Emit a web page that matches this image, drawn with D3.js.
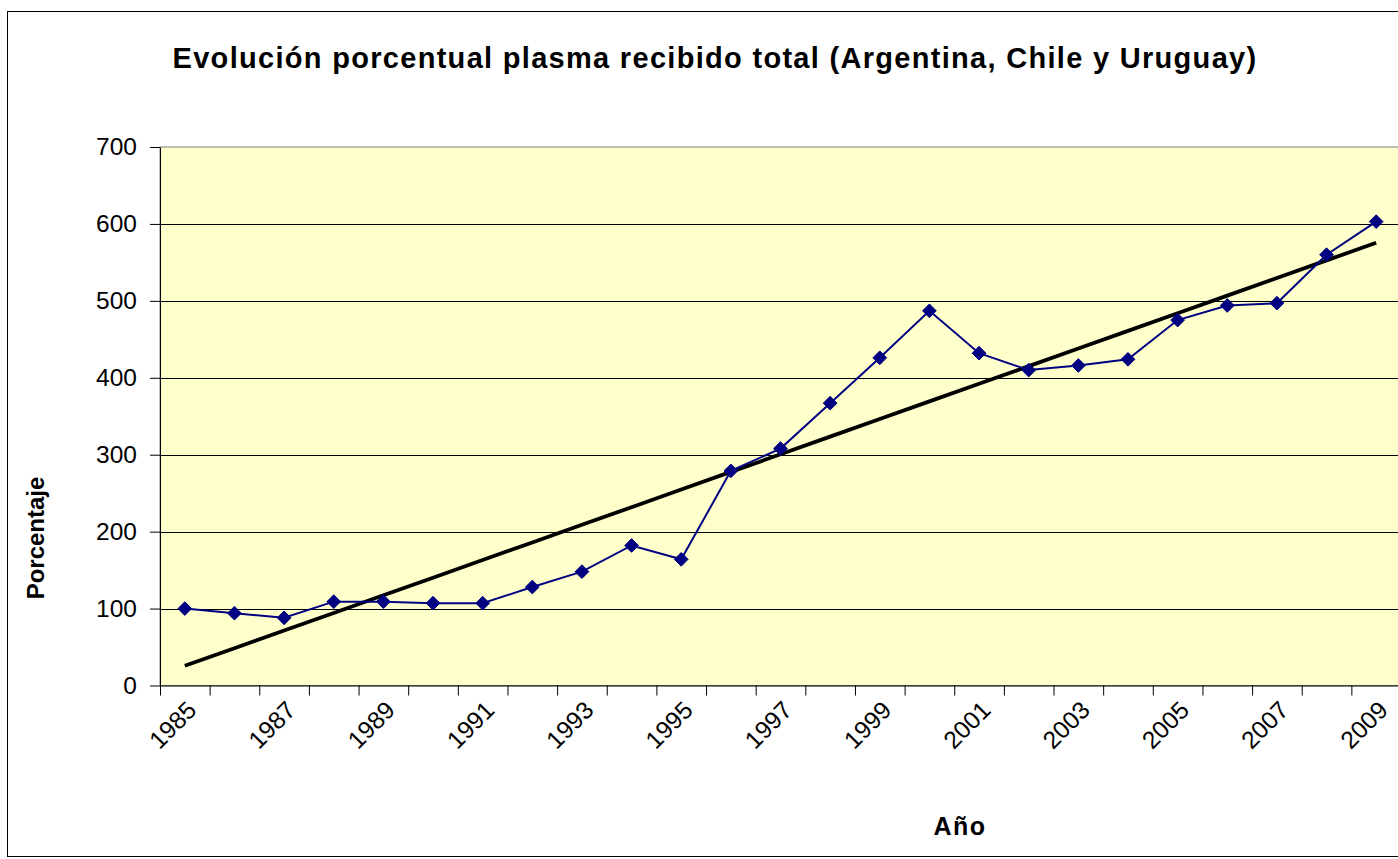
<!DOCTYPE html>
<html>
<head>
<meta charset="utf-8">
<script src="https://d3js.org/d3.v7.min.js"></script>
<style>
  body { margin: 0; background: #fff; }
  svg { display: block; font-family: "Liberation Sans", Arial, sans-serif; }
</style>
</head>
<body>
<div id="chart"></div>
<script>
const years = d3.range(1985, 2010).map(String);
const percentages = [100, 94, 88, 109, 109, 107, 107, 128, 148, 182, 164, 279, 308,
  367, 426, 487, 432, 410, 416, 424, 475, 494, 497, 560, 603];
const yTicks = [0, 100, 200, 300, 400, 500, 600, 700];
const labelYears = years.filter(function (d, i) { return i % 2 === 0; });

const titleText = 'Evolución porcentual plasma recibido total (Argentina, Chile y Uruguay)';
const xTitle = 'Año';
const yTitle = 'Porcentaje';

const width = 1398;
const height = 859;
const plot = { left: 160, right: 1401, top: 147, bottom: 685.5 };

// linear trend line, least squares over the series (as the spreadsheet does)
function linearTrend(values) {
  const n = values.length;
  const mx = (n - 1) / 2;
  const my = d3.mean(values);
  let sxy = 0, sxx = 0;
  values.forEach(function (v, i) {
    sxy += (i - mx) * (v - my);
    sxx += (i - mx) * (i - mx);
  });
  const slope = sxy / sxx;
  return values.map(function (v, i) { return my + slope * (i - mx); });
}

const svg = d3.select('#chart')
  .append('svg')
  .attr('width', width)
  .attr('height', height);

// chart frame
svg.append('rect')
  .attr('x', 7.5)
  .attr('y', 11.5)
  .attr('width', 1420)
  .attr('height', 845)
  .attr('fill', '#fff')
  .attr('stroke', '#000')
  .attr('stroke-width', 1);

let x = d3.scaleBand()
  .domain(years)
  .range([plot.left, plot.right])
  .padding(0);

let xEdge = d3.scaleLinear()
  .domain([0, years.length])
  .range([plot.left, plot.right]);

let y = d3.scaleLinear()
  .domain([0, 700])
  .range([plot.bottom, plot.top]);

function cx(d) { return x(d) + x.bandwidth() / 2; }

// plot area
svg.append('rect')
  .attr('x', plot.left)
  .attr('y', plot.top)
  .attr('width', plot.right - plot.left)
  .attr('height', plot.bottom - plot.top)
  .attr('fill', '#ffffcc')
  .attr('stroke', '#808080')
  .attr('stroke-width', 1);

// gridlines
svg.append('g')
  .selectAll('line')
  .data(yTicks.filter(function (d) { return d > 0 && d < 700; }))
  .enter()
  .append('line')
  .attr('x1', plot.left)
  .attr('x2', plot.right)
  .attr('y1', function (d) { return Math.round(y(d)) + 0.5; })
  .attr('y2', function (d) { return Math.round(y(d)) + 0.5; })
  .attr('stroke', '#000')
  .attr('stroke-width', 1);

// y axis
let yAxis = svg.append('g')
  .attr('transform', 'translate(' + plot.left + ',0)')
  .call(d3.axisLeft(y).tickValues(yTicks).tickSize(10).tickPadding(13).tickSizeOuter(0));
yAxis.select('.domain').attr('stroke', '#000');
yAxis.selectAll('.tick line').attr('stroke', '#000');
yAxis.selectAll('.tick text')
  .attr('font-family', '"Liberation Sans", Arial, sans-serif')
  .attr('font-size', 24.5)
  .attr('fill', '#000');

// x axis (ticks between categories)
let xAxis = svg.append('g')
  .attr('transform', 'translate(0,' + plot.bottom + ')')
  .call(d3.axisBottom(xEdge).tickValues(d3.range(years.length + 1)).tickSize(10)
    .tickFormat('').tickSizeOuter(0));
xAxis.select('.domain').attr('stroke', '#000');
xAxis.selectAll('.tick line').attr('stroke', '#000');

svg.append('g')
  .selectAll('text')
  .data(labelYears)
  .enter()
  .append('text')
  .attr('transform', function (d) {
    return 'translate(' + (cx(d) + 1) + ',' + (plot.bottom + 14) + ') rotate(-45)';
  })
  .attr('text-anchor', 'end')
  .attr('dy', '0.7em')
  .attr('font-size', 24.5)
  .attr('fill', '#000')
  .text(function (d) { return d; });

// trend line
const trend = linearTrend(percentages);
let line = d3.line()
  .x(function (d, i) { return cx(years[i]); })
  .y(function (d) { return y(d); });

svg.append('path')
  .datum(trend)
  .attr('d', line)
  .attr('fill', 'none')
  .attr('stroke', '#000')
  .attr('stroke-width', 3.8);

// data series
svg.append('path')
  .datum(percentages)
  .attr('d', line)
  .attr('fill', 'none')
  .attr('stroke', '#000080')
  .attr('stroke-width', 2);

svg.append('g')
  .selectAll('path')
  .data(percentages)
  .enter()
  .append('path')
  .attr('d', d3.symbol().type(d3.symbolDiamond2).size(120))
  .attr('transform', function (d, i) {
    return 'translate(' + cx(years[i]) + ',' + y(d) + ')';
  })
  .attr('fill', '#000080')
  .attr('stroke', '#000080')
  .attr('stroke-width', 1);

// titles
svg.append('text')
  .attr('x', 715)
  .attr('y', 68)
  .attr('text-anchor', 'middle')
  .attr('font-size', 29)
  .attr('letter-spacing', 1.3)
  .attr('font-weight', 'bold')
  .text(titleText);

svg.append('text')
  .attr('x', 960)
  .attr('y', 835)
  .attr('text-anchor', 'middle')
  .attr('font-size', 25)
  .attr('letter-spacing', 1.5)
  .attr('font-weight', 'bold')
  .text(xTitle);

svg.append('text')
  .attr('transform', 'translate(44,538) rotate(-90)')
  .attr('text-anchor', 'middle')
  .attr('font-size', 24)
  .attr('font-weight', 'bold')
  .text(yTitle);
</script>
</body>
</html>
